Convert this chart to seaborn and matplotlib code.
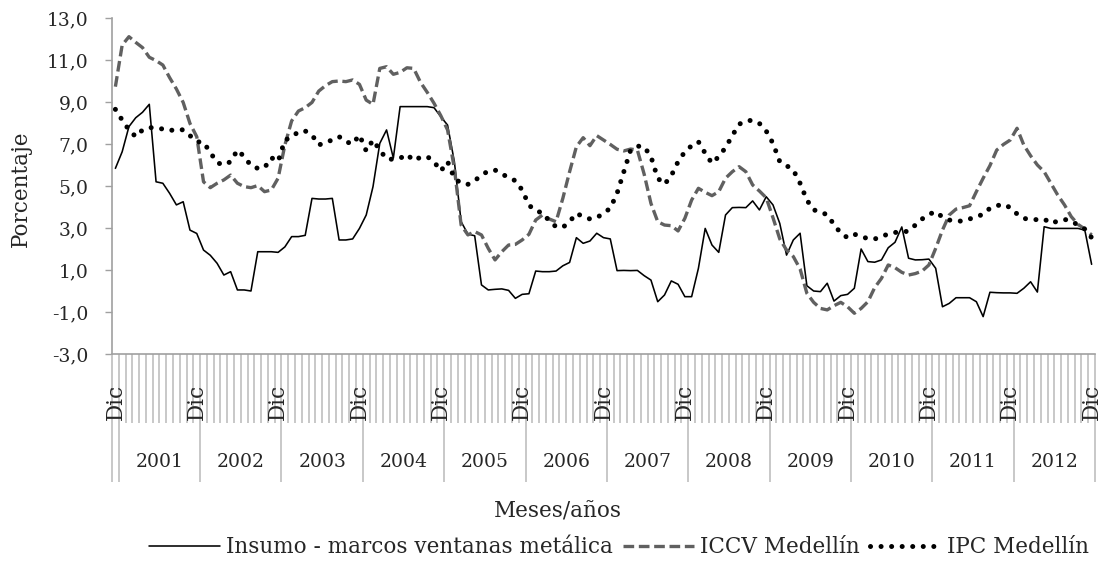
import numpy as np
import pandas as pd
import matplotlib
matplotlib.use("Agg")
import matplotlib.pyplot as plt
import seaborn as sns

# Monthly categories: Dic 2000 followed by Ene 2001 ... Dic 2012
mes_nombres = ["Ene", "Feb", "Mar", "Abr", "May", "Jun",
               "Jul", "Ago", "Sep", "Oct", "Nov", "Dic"]
anios = [str(a) for a in range(2001, 2013)]
meses = ["Dic"] + [m for _ in anios for m in mes_nombres]
anio_de_mes = ["2000"] + [a for a in anios for _ in mes_nombres]

# Annual variation (%) of each series
insumo = [
    5.84, 6.63, 7.83, 8.25, 8.51, 8.89, 5.20, 5.13, 4.65, 4.10, 4.25, 2.90, 2.74,
    1.95, 1.70, 1.32, 0.76, 0.92, 0.05, 0.05, 0.00, 1.87, 1.87, 1.87, 1.84,
    2.10, 2.59, 2.59, 2.65, 4.41, 4.38, 4.38, 4.41, 2.43, 2.43, 2.48, 2.98,
    3.62, 4.97, 7.03, 7.67, 6.33, 8.78, 8.78, 8.78, 8.78, 8.78, 8.73, 8.30,
    7.90, 6.16, 3.30, 2.71, 2.63, 0.29, 0.05, 0.08, 0.10, 0.03, -0.35, -0.16,
    -0.13, 0.95, 0.92, 0.92, 0.95, 1.20, 1.36, 2.54, 2.27, 2.38, 2.75, 2.54,
    2.48, 0.97, 0.98, 0.97, 0.98, 0.73, 0.52, -0.51, -0.19, 0.48, 0.32, -0.27,
    -0.27, 1.08, 2.98, 2.19, 1.84, 3.62, 3.97, 3.98, 3.97, 4.29, 3.86, 4.49,
    4.10, 3.22, 1.71, 2.43, 2.75, 0.25, 0.00, -0.03, 0.37, -0.48, -0.22, -0.16,
    0.13, 2.00, 1.40, 1.37, 1.48, 2.06, 2.32, 3.05, 1.56, 1.48, 1.49, 1.52,
    1.08, -0.75, -0.59, -0.32, -0.32, -0.32, -0.51, -1.22, -0.06, -0.08, -0.09, -0.09,
    -0.11, 0.13, 0.44, -0.05, 3.06, 2.98, 2.98, 2.98, 2.98, 2.98, 2.90, 1.27,
]
iccv = [
    9.73, 11.71, 12.11, 11.84, 11.59, 11.13, 10.97, 10.76, 10.16, 9.62, 8.98, 7.98, 7.35,
    5.20, 4.92, 5.13, 5.29, 5.52, 5.13, 4.97, 4.92, 5.02, 4.73, 4.81, 5.37,
    6.95, 8.10, 8.57, 8.73, 8.98, 9.52, 9.78, 9.97, 10.00, 9.97, 10.05, 9.84,
    9.09, 8.89, 10.60, 10.68, 10.32, 10.41, 10.63, 10.60, 9.94, 9.46, 8.94, 8.35,
    7.67, 5.84, 3.14, 2.67, 2.83, 2.67, 2.03, 1.48, 1.87, 2.19, 2.22, 2.43,
    2.70, 3.38, 3.62, 3.43, 3.30, 4.41, 5.68, 6.87, 7.30, 6.92, 7.40, 7.19,
    6.98, 6.75, 6.67, 6.76, 6.71, 5.56, 4.17, 3.30, 3.14, 3.11, 2.86, 3.46,
    4.33, 4.89, 4.70, 4.54, 4.73, 5.37, 5.68, 5.92, 5.68, 5.05, 4.76, 4.44,
    3.49, 2.48, 1.95, 1.64, 1.05, -0.11, -0.54, -0.83, -0.90, -0.70, -0.54, -0.75,
    -1.06, -0.83, -0.51, 0.16, 0.60, 1.24, 1.11, 0.89, 0.76, 0.83, 0.95, 1.24,
    2.03, 2.90, 3.62, 3.90, 3.97, 4.06, 4.73, 5.37, 5.97, 6.71, 6.98, 7.19,
    7.75, 6.95, 6.44, 6.00, 5.68, 5.13, 4.57, 4.10, 3.54, 3.17, 2.95, 2.67,
]
ipc = [
    8.65, 8.14, 7.67, 7.35, 7.67, 7.78, 7.78, 7.71, 7.63, 7.71, 7.67, 7.40, 7.11,
    7.08, 6.60, 6.11, 6.00, 6.16, 6.71, 6.40, 5.97, 5.84, 5.87, 6.35, 6.16,
    7.19, 7.32, 7.59, 7.62, 7.43, 6.95, 7.08, 7.19, 7.35, 7.11, 7.00, 7.43,
    6.67, 7.19, 6.71, 6.29, 6.27, 6.32, 6.51, 6.21, 6.37, 6.40, 6.16, 5.71,
    6.16, 5.37, 5.13, 5.08, 5.25, 5.52, 5.71, 5.76, 5.57, 5.41, 5.25, 4.81,
    4.09, 3.81, 3.73, 3.33, 3.06, 3.03, 3.30, 3.70, 3.54, 3.43, 3.49, 3.70,
    3.94, 4.65, 5.68, 6.71, 6.90, 6.87, 6.40, 5.37, 5.08, 5.49, 6.16, 6.63,
    6.92, 7.11, 6.56, 6.08, 6.40, 6.83, 7.40, 7.94, 8.10, 8.13, 7.98, 7.62,
    7.03, 6.16, 5.97, 5.76, 5.13, 4.33, 3.86, 3.78, 3.62, 3.17, 2.75, 2.54,
    2.70, 2.62, 2.48, 2.48, 2.57, 2.73, 2.79, 2.79, 2.86, 3.14, 3.43, 3.65,
    3.78, 3.52, 3.38, 3.33, 3.33, 3.43, 3.54, 3.65, 3.94, 4.06, 4.13, 3.97,
    3.67, 3.46, 3.40, 3.40, 3.43, 3.22, 3.33, 3.41, 3.33, 3.14, 2.95, 2.54,
]

series_labels = ["Insumo - marcos ventanas metálica", "ICCV Medellín", "IPC Medellín"]
y_ticks = [-3, -1, 1, 3, 5, 7, 9, 11, 13]

df = pd.DataFrame({"pos": np.arange(len(meses)), "mes": meses,
                   "anio": anio_de_mes, "insumo": insumo,
                   "iccv": iccv, "ipc": ipc})

sns.set_theme(style="white")
plt.rcParams["font.family"] = ["DejaVu Serif"]
plt.rcParams["font.size"] = 13

NUM_FS = 13.5   # numeric labels
TXT_FS = 15.5   # word labels

fig = plt.figure(figsize=(11.15, 5.63), dpi=100)
ax = fig.add_axes([112 / 1115, 209 / 563, 983 / 1115, 336 / 563])

sns.lineplot(data=df, x="pos", y="insumo", ax=ax, color="black",
             lw=1.15, label=series_labels[0])
sns.lineplot(data=df, x="pos", y="iccv", ax=ax, color="#606060",
             lw=2.4, ls=(0, (3.2, 1.4)), label=series_labels[1])
sns.lineplot(data=df, x="pos", y="ipc", ax=ax, color="black",
             lw=3.6, ls=(0, (0.01, 2.1)), dash_capstyle="round",
             label=series_labels[2])

n = len(meses)
ax.set_xlim(-0.5, n - 0.5)
ax.set_ylim(y_ticks[0], y_ticks[-1])
ax.set_yticks(y_ticks)
ax.set_yticklabels([f"{v:.1f}".replace(".", ",") for v in y_ticks])
ax.set_xticks([])
ax.set_xlabel("")
ax.set_ylabel("")
ax.tick_params(axis="y", which="major", direction="out", length=5,
               width=1, color="#A0A0A0", pad=12, labelsize=NUM_FS, left=True)

for side in ("top", "right"):
    ax.spines[side].set_visible(False)
for side in ("left", "bottom"):
    ax.spines[side].set_color("#A0A0A0")
    ax.spines[side].set_linewidth(1.2)

# Two-level category axis: month ticks and year group separators
trans = ax.get_xaxis_transform()
cat_edges = np.arange(n + 1) - 0.5
ax.vlines(cat_edges, -0.205, 0, transform=trans, colors="#C8C8C8",
          lw=1.4, clip_on=False)
group_edges = [-0.5] + [i - 0.5 for i in range(1, n) if anio_de_mes[i] != anio_de_mes[i - 1]] + [n - 0.5]
ax.vlines(group_edges, -0.381, 0, transform=trans, colors="#C8C8C8",
          lw=1.4, clip_on=False)

for i, m in enumerate(meses):
    if m == "Dic":
        ax.text(i, -0.195, m, transform=trans, rotation=90, ha="center",
                va="bottom", fontsize=TXT_FS, clip_on=False)

for a in anios:
    idx = [i for i, y in enumerate(anio_de_mes) if y == a]
    ax.text((idx[0] + idx[-1]) / 2, -0.321, a, transform=trans,
            ha="center", va="center", fontsize=NUM_FS, clip_on=False)

fig.text(0.019, 0.665, "Porcentaje", rotation=90, ha="center",
         va="center", fontsize=TXT_FS)
fig.text(0.5, 0.091, "Meses/años", ha="center", va="center", fontsize=TXT_FS)

handles, labels = ax.get_legend_handles_labels()
ax.get_legend().remove()
fig.legend(handles, labels, loc="center", bbox_to_anchor=(0.555, 0.028),
           ncol=3, frameon=False, fontsize=TXT_FS, handlelength=3.3,
           columnspacing=0.45, handletextpad=0.3)

fig.savefig("out.png", dpi=100, facecolor="white")
